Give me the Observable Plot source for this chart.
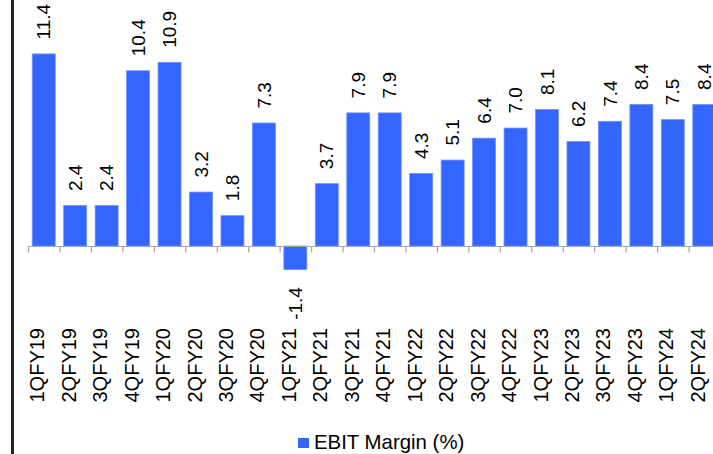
<!DOCTYPE html>
<html>
<head>
<meta charset="utf-8">
<script src="https://cdn.jsdelivr.net/npm/d3@7"></script>
<script src="https://cdn.jsdelivr.net/npm/@observablehq/plot@0.6"></script>
<style>
  html, body { margin: 0; padding: 0; background: #fff; }
  body { width: 713px; height: 454px; overflow: hidden; position: relative; font-family: "Liberation Sans", Arial, sans-serif; }
  #frameLine { position: absolute; left: 11px; top: 0; width: 2.5px; height: 454px; background: #222; }
  #chart svg { display: block; }
  #legend { position: relative; height: 29px; font-size: 20.4px; color: #000; }
  #legend .sw { position: absolute; left: 298px; top: 13px; width: 11px; height: 10px; background: #3366ff; }
  #legend .lb { position: absolute; left: 314px; top: 6px; line-height: 22px; white-space: nowrap; }
</style>
</head>
<body>
<div id="chart"></div>
<div id="legend"><span class="sw"></span><span class="lb"></span></div>
<div id="frameLine"></div>
<script>
const quarters = ["1QFY19","2QFY19","3QFY19","4QFY19","1QFY20","2QFY20","3QFY20","4QFY20",
  "1QFY21","2QFY21","3QFY21","4QFY21","1QFY22","2QFY22","3QFY22","4QFY22",
  "1QFY23","2QFY23","3QFY23","4QFY23","1QFY24","2QFY24"];
const ebitMargin = [11.4, 2.4, 2.4, 10.4, 10.9, 3.2, 1.8, 7.3, -1.4, 3.7, 7.9, 7.9,
  4.3, 5.1, 6.4, 7.0, 8.1, 6.2, 7.4, 8.4, 7.5, 8.4];
const seriesName = "EBIT Margin (%)";

const data = quarters.map((q, i) => ({q, v: ebitMargin[i]}));
const fmt = v => v.toFixed(1);
const step = (720 - 28) / quarters.length;

const chart = Plot.plot({
  width: 713,
  height: 425,
  marginTop: 0,
  marginBottom: 23,
  marginLeft: 28,
  marginRight: 0,
  style: {fontFamily: '"Liberation Sans", Arial, sans-serif', color: "#000", background: "transparent"},
  x: {domain: quarters, range: [28, 720], round: false, paddingInner: 0.27, paddingOuter: 0.135, axis: null},
  y: {domain: [-9.258, 14.6], axis: null},
  marks: [
    Plot.barY(data, {x: "q", y: "v", fill: "#3366ff", stroke: "#6f8fff", strokeWidth: 0.8}),
    Plot.ruleY([0], {stroke: "#a6a6a6", strokeWidth: 1.2}),
    Plot.ruleX(data, {x: "q", y1: 0, y2: 0, dx: -step / 2, insetBottom: -6.5, stroke: "#a6a6a6", strokeWidth: 1.2}),
    Plot.text(data.filter(d => d.v >= 0), {x: "q", y: "v", text: d => fmt(d.v), rotate: -90, textAnchor: "start", dy: -15, fontSize: 19, fill: "#000"}),
    Plot.text(data.filter(d => d.v < 0), {x: "q", y: "v", text: d => fmt(d.v), rotate: -90, textAnchor: "end", dy: 17, fontSize: 19, fill: "#000"}),
    Plot.text(quarters, {x: d => d, frameAnchor: "bottom", rotate: -90, textAnchor: "start", fontSize: 20, fill: "#000"})
  ]
});
document.getElementById("chart").appendChild(chart);
document.querySelector("#legend .lb").textContent = seriesName;
</script>
</body>
</html>
